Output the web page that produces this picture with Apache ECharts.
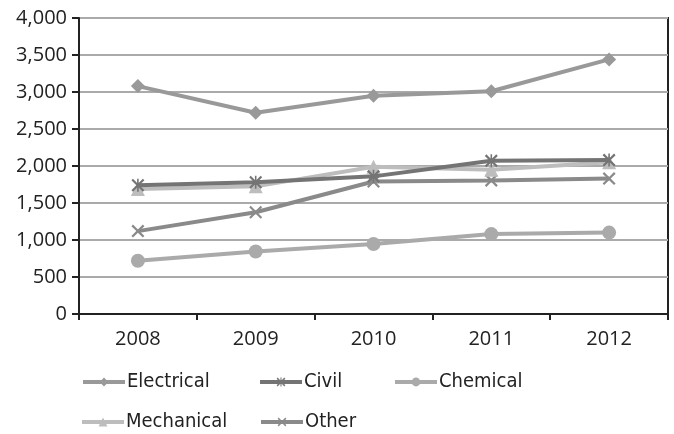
<!DOCTYPE html>
<html><head><meta charset="utf-8">
<script src="https://cdn.jsdelivr.net/npm/echarts@6/dist/echarts.min.js"></script>
<style>html,body{margin:0;padding:0;background:#fff}#c{width:674px;height:434px}</style>
</head><body><div id="c"></div>
<script>
const categories = ['2008','2009','2010','2011','2012'];
const electrical = [3080, 2720, 2950, 3010, 3440];
const civil = [1740, 1780, 1860, 2070, 2080];
const chemical = [720, 845, 945, 1080, 1100];
const mechanical = [1690, 1725, 1990, 1950, 2050];
const other = [1120, 1375, 1790, 1805, 1830];
const seriesNames = ['Electrical','Civil','Chemical','Mechanical','Other'];

const xPath = 'path://M0,1.2L1.2,0L5,3.8L8.8,0L10,1.2L6.2,5L10,8.8L8.8,10L5,6.2L1.2,10L0,8.8L3.8,5Z';
const starPath = 'path://M0,1.2L1.2,0L4.4,3.2L4.4,0L5.6,0L5.6,3.2L8.8,0L10,1.2L6.2,5L10,8.8L8.8,10L5.6,6.8L5.6,10L4.4,10L4.4,6.8L1.2,10L0,8.8L3.8,5Z';

const FONT = "'Open Sans', sans-serif";
const LFONT = "'DejaVu Sans Condensed', sans-serif";
const colors = ['#999999','#747474','#aaaaaa','#bdbdbd','#8a8a8a'];
const symbols = ['diamond', starPath, 'circle', 'triangle', xPath];
const symSizes = [14, 13, 14, 14, 13];
const datas = [electrical, civil, chemical, mechanical, other];

const series = seriesNames.map((n,i)=>({
  name:n, type:'line', data:datas[i],
  symbol:symbols[i], symbolSize:symSizes[i], showAllSymbol:true,
  lineStyle:{color:colors[i], width:4},
  itemStyle:{color:colors[i]},
  z: 10 - i
}));

const legendPos = [
  {left:81, top:372}, {left:258, top:372}, {left:393, top:372},
  {left:80, top:412}, {left:259, top:412}
];
const legends = seriesNames.map((n,i)=>({
  data:[n], left:legendPos[i].left, top:legendPos[i].top, padding:0,
  itemWidth:42, itemHeight:11, itemGap:0,
  lineStyle:{width:4},
  textStyle:{fontFamily:LFONT, fontSize:20, color:'#222', padding:[0,0,0,-3]}
}));

const chart = echarts.init(document.getElementById('c'));
chart.setOption({
  animation:false,
  legend: legends,
  grid:{left:79, right:6, top:18, bottom:120, show:true, borderColor:'#222', borderWidth:2, containLabel:false},
  xAxis:{type:'category', data:categories, boundaryGap:true,
    axisLine:{lineStyle:{color:'#222', width:2}},
    axisTick:{show:true, inside:false, length:6, lineStyle:{color:'#222', width:2}, alignWithLabel:false},
    axisLabel:{fontFamily:FONT, fontSize:20, color:'#222', margin:15}},
  yAxis:{type:'value', min:0, max:4000, interval:500,
    axisLine:{show:true, lineStyle:{color:'#222', width:2}},
    axisTick:{show:true, length:7, lineStyle:{color:'#222', width:2}},
    splitLine:{lineStyle:{color:'#aaaaaa', width:2}},
    axisLabel:{fontFamily:FONT, fontSize:20, color:'#222', margin:12,
      formatter:v=>v.toLocaleString('en-US')}},
  series: series
});
</script></body></html>
